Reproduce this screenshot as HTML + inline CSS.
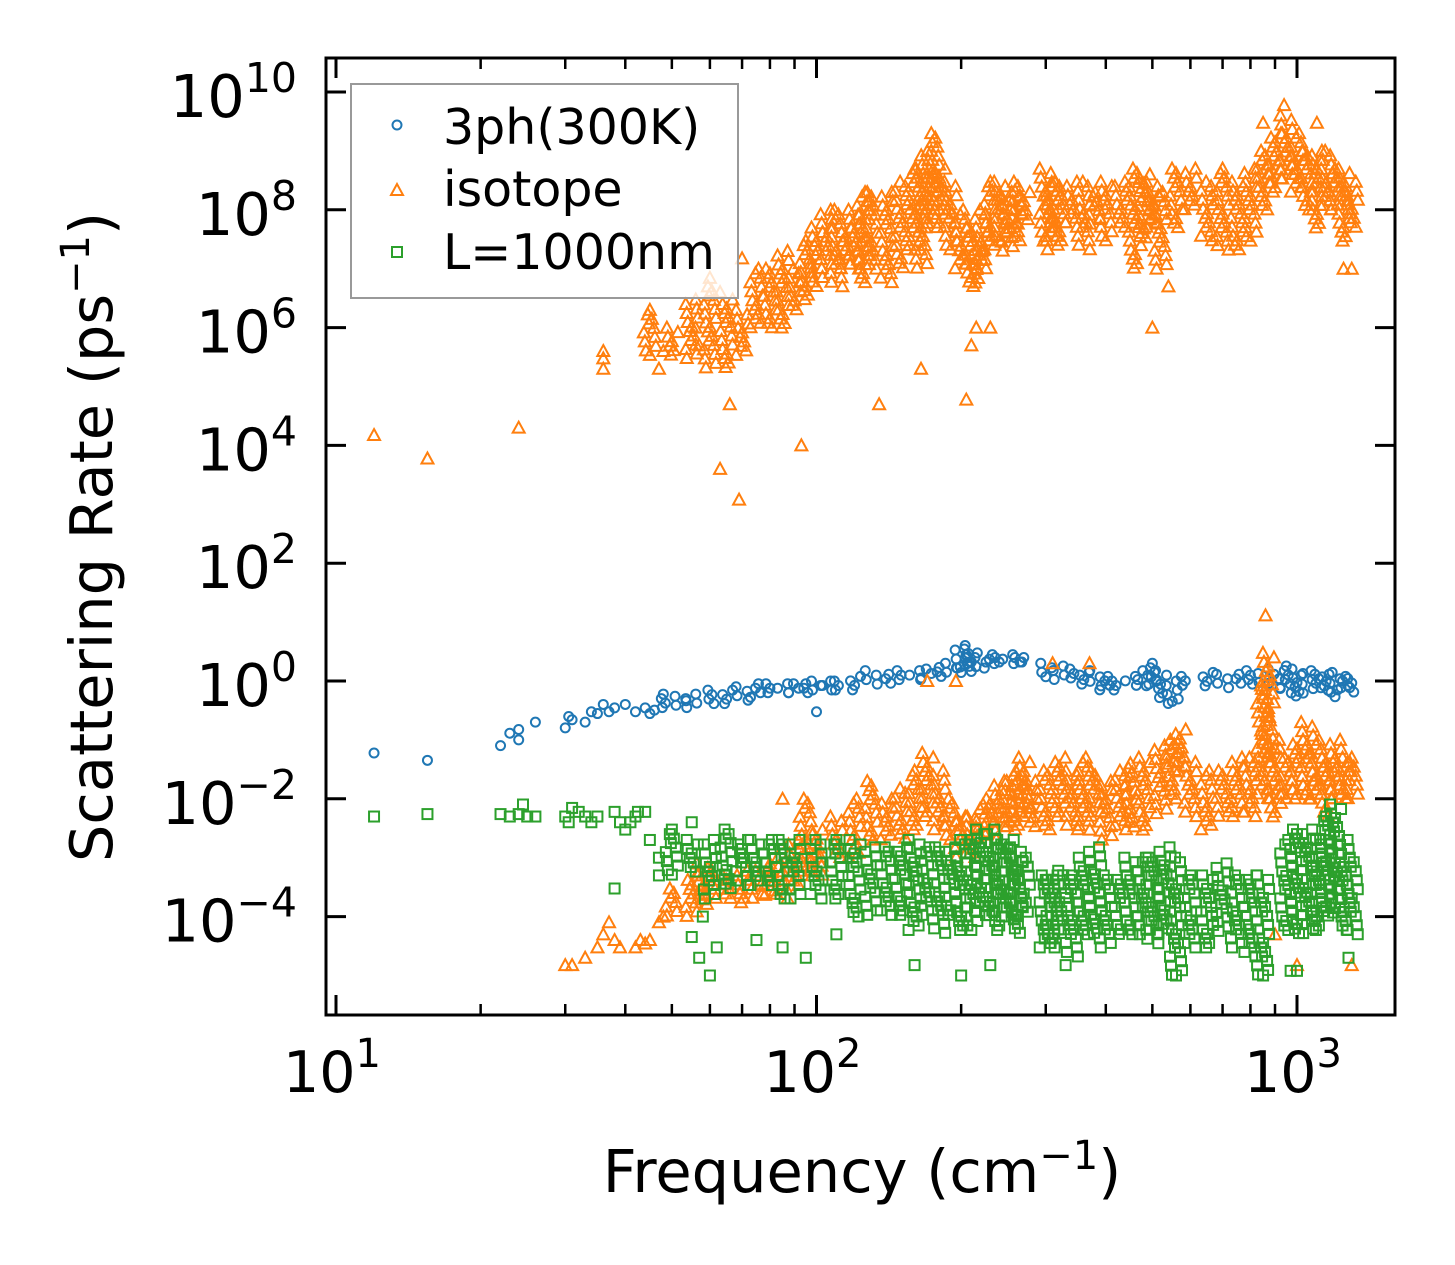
<!DOCTYPE html>
<html><head><meta charset="utf-8"><style>
html,body{margin:0;padding:0;background:#fff;}
svg{display:block;font-family:"DejaVu Sans","Liberation Sans",sans-serif;}
</style></head><body>
<svg id="chart" width="1455" height="1265" viewBox="0 0 1455 1265" xmlns="http://www.w3.org/2000/svg">
<defs><clipPath id="clip"><rect x="326" y="58" width="1069" height="957"/></clipPath></defs>
<g id="points" clip-path="url(#clip)"></g>
<rect x="326" y="58" width="1069" height="957" fill="none" stroke="#000" stroke-width="3"/>
<g id="axes"></g>
<text x="862" y="1192" font-size="59" text-anchor="middle">Frequency (cm<tspan dy="-23" font-size="40">−1</tspan><tspan dy="23">)</tspan></text>
<text transform="translate(112,537) rotate(-90)" font-size="59" text-anchor="middle">Scattering Rate (ps<tspan dy="-23" font-size="40">−1</tspan><tspan dy="23">)</tspan></text>
<g>
<rect x="351" y="84" width="387" height="214" fill="rgba(255,255,255,0.8)" stroke="#999" stroke-width="2"/>
<circle cx="397" cy="125" r="4.5" fill="none" stroke="#1f77b4" stroke-width="2"/>
<text x="443" y="144" font-size="49">3ph(300K)</text>
<path d="M397,184 L403,195 L391,195 Z" fill="none" stroke="#ff7f0e" stroke-width="2"/>
<text x="443" y="206" font-size="49">isotope</text>
<rect x="392" y="247" width="10" height="10" fill="none" stroke="#2ca02c" stroke-width="2"/>
<text x="443" y="269" font-size="49">L=1000nm</text>
</g>
</svg>
<script>
const xTicks=[10,100,1000];
const xTickLabels=["1","2","3"];
const yTicks=[1e10,1e8,1e6,1e4,1e2,1e0,1e-2,1e-4];
const yTickLabels=["10","8","6","4","2","0","−2","−4"];
const blueScatter=[[12,0.06],[15.5,0.045],[22,0.08],[23,0.13],[24,0.1],[24,0.15],[26,0.2],[30,0.16],[30.5,0.25],[31,0.22],[33,0.2],[34,0.3],[35,0.28],[36,0.4],[37,0.3],[38,0.35],[40,0.4],[42,0.3],[44,0.35],[45,0.28],[46,0.32],[100,0.3],[550,0.45]];
const blueBands=[[48,0.3,0.6],[52,0.35,0.55],[55,0.35,0.6],[60,0.35,0.7],[65,0.4,0.7],[70,0.45,0.8],[75,0.5,0.9],[80,0.6,0.9],[85,0.6,0.9],[90,0.6,0.9],[95,0.6,0.9],[100,0.6,1.0],[105,0.6,1.0],[110,0.6,1.0],[120,0.7,1.2],[130,0.8,1.5],[140,0.8,1.3],[150,0.9,1.5],[160,1.0,1.5],[170,1.0,1.6],[180,1.1,1.7],[190,1.2,2.0],[200,1.2,4],[205,1.3,3.5],[210,1.5,3],[220,1.5,2.5],[230,1.6,2.8],[240,1.8,2.5],[250,1.8,2.8],[260,1.8,2.5],[270,1.8,2.5],[300,1,2],[320,1,1.8],[340,1,1.6],[360,0.8,1.5],[380,0.7,1.4],[400,0.6,1.2],[420,0.7,1.0],[450,0.8,1.2],[480,0.8,1.5],[500,0.7,2],[520,0.5,1.5],[550,0.4,1.0],[580,0.8,1.2],[650,0.8,1.4],[700,0.7,1.3],[750,0.8,1.3],[800,0.8,1.5],[850,0.8,1.6],[900,0.7,1.3],[950,0.6,1.8],[1000,0.5,1.6],[1050,0.6,1.5],[1100,0.7,1.3],[1150,0.6,1.4],[1200,0.5,1.3],[1250,0.7,1.2],[1300,0.6,1.1]];
const orangeScatter=[[12,1.5e4],[15.5,6e3],[24,2e4],[36,3e5],[36,4e5],[36,2e5],[63,4e3],[69,1.2e3],[66,5e4],[93,1e4],[135,5e4],[165,2e5],[205,6e4],[210,5e5],[215,1e6],[230,1e6],[63,4e6],[60,7e6],[70,1.5e7],[56,1e6],[57,5e5],[48,4e5],[47,2e5],[940,6e9],[1100,3e9],[850,3e9],[1300,1e7],[1250,1e7],[540,5e6],[500,1e6],[30,1.5e-5],[31,1.5e-5],[33,2e-5],[35,3e-5],[36,5e-5],[37,8e-5],[38,4e-5],[39,3e-5],[42,3e-5],[43,4e-5],[44,3.5e-5],[45,4e-5],[47,8e-5],[48,1e-4],[860,1.3e1],[170,1e0],[195,1e0],[310,2e0],[370,2e0],[1300,1.5e-5],[900,5e-5],[1000,1.5e-5],[85,1e-2]];
const orangeBands=[[45,3e5,2e6],[50,3e5,1e6],[55,3e5,3e6],[60,2e5,5e6],[65,2e5,3e6],[70,3e5,2e6],[75,1e6,1e7],[80,1e6,1e7],[85,1e6,2e7],[90,2e6,1e7],[95,3e6,3e7],[100,5e6,5e7],[105,1e7,1e8],[110,5e6,1e8],[115,1e7,5e7],[120,1e7,1e8],[125,5e6,2e8],[130,1e7,2e8],[140,5e6,2e8],[150,1e7,3e8],[160,2e7,5e8],[165,1e7,5e8],[170,5e7,1e9],[175,1e8,2e9],[180,5e7,5e8],[190,2e7,3e8],[200,1e7,1e8],[210,5e6,5e7],[215,5e6,2e7],[220,1e7,1e8],[230,2e7,3e8],[240,3e7,3e8],[250,2e7,2e8],[260,3e7,3e8],[270,5e7,2e8],[300,3e7,5e8],[310,2e7,3e8],[320,3e7,3e8],[340,5e7,3e8],[360,2e7,3e8],[380,5e7,2e8],[400,3e7,3e8],[430,5e7,3e8],[460,1e7,5e8],[480,3e7,4e8],[500,5e7,3e8],[520,1e7,2e8],[560,5e7,5e8],[600,1e8,5e8],[650,3e7,3e8],[700,2e7,5e8],[750,2e7,3e8],[800,3e7,5e8],[850,1e8,1e9],[900,2e8,2e9],[950,3e8,4e9],[1000,2e8,2e9],[1050,1e8,1e9],[1100,5e7,1e9],[1150,1e8,1e9],[1200,1e8,5e8],[1250,3e7,5e8],[1300,5e7,3e8],
[50,1e-4,3e-4],[55,1e-4,5e-4],[58,1.5e-4,8e-4],[60,2e-4,6e-4],[65,2e-4,5e-4],[70,1.5e-4,6e-4],[75,2e-4,6e-4],[80,2e-4,8e-4],[85,2e-4,1e-3],[90,3e-4,2e-3],[95,5e-4,1e-2],[100,5e-4,3e-3],[110,1e-3,5e-3],[120,1e-3,1e-2],[130,2e-3,2e-2],[140,2e-3,1e-2],[150,2e-3,1.5e-2],[160,3e-3,3e-2],[170,5e-3,6e-2],[180,3e-3,3e-2],[190,2e-3,1e-2],[200,1e-3,5e-3],[210,1e-3,5e-3],[220,2e-3,8e-3],[230,2e-3,1e-2],[240,3e-3,2e-2],[250,3e-3,2e-2],[260,3e-3,3e-2],[270,5e-3,5e-2],[280,3e-3,2e-2],[300,3e-3,3e-2],[320,5e-3,5e-2],[340,3e-3,3e-2],[360,3e-3,5e-2],[380,5e-3,3e-2],[400,2e-3,2e-2],[430,3e-3,3e-2],[450,3e-3,4e-2],[480,3e-3,5e-2],[520,5e-3,8e-2],[550,1e-2,1e-1],[570,3e-2,1.5e-1],[600,5e-3,5e-2],[650,3e-3,3e-2],[700,5e-3,3e-2],[750,5e-3,5e-2],[800,5e-3,5e-2],[850,1e-2,1e0],[870,5e-2,3e0],[900,5e-3,1e-1],[950,1e-2,5e-2],[1000,1e-2,1e-1],[1050,1e-2,2e-1],[1100,1e-2,1e-1],[1150,5e-3,5e-2],[1200,1e-2,1e-1],[1250,1e-2,5e-2],[1300,1e-2,5e-2]];
const greenScatter=[[12,5e-3],[15.5,5.5e-3],[22,5.5e-3],[23,5e-3],[24,5.5e-3],[24.5,8e-3],[25,5e-3],[26,5e-3],[30,5e-3],[30.5,4e-3],[31,7e-3],[32,6e-3],[33,5e-3],[34,4e-3],[35,5e-3],[38,6e-3],[39,4e-3],[40,3e-3],[41,4e-3],[42,5e-3],[42.5,6e-3],[45,2e-3],[44,6e-3],[47,1e-3],[38,3e-4],[47,5e-4],[55,4e-3],[55,4.5e-5],[60,1e-5],[57,2e-5],[62,3e-5],[58,1e-4],[330,1.5e-5],[560,1e-5],[850,1e-5],[970,1.2e-5],[1000,1.2e-5],[160,1.5e-5],[200,1e-5],[230,1.5e-5],[95,2e-5],[110,5e-5],[1280,2e-5],[75,4e-5],[85,3e-5]];
const greenBands=[[50,5e-4,3e-3],[55,5e-4,2e-3],[60,2e-4,2e-3],[65,3e-4,3e-3],[70,3e-4,2e-3],[75,3e-4,2e-3],[80,3e-4,2e-3],[85,2e-4,2e-3],[90,2e-4,2e-3],[100,2e-4,2e-3],[110,2e-4,2e-3],[120,1e-4,2e-3],[130,1e-4,1.5e-3],[140,1e-4,1.5e-3],[150,1e-4,1.5e-3],[160,5e-5,2e-3],[170,1e-4,1.5e-3],[180,5e-5,1.5e-3],[190,1e-4,1.5e-3],[200,5e-5,2e-3],[210,5e-5,2e-3],[220,1e-4,3e-3],[230,1e-4,3e-3],[240,5e-5,2e-3],[250,1e-4,2e-3],[260,5e-5,1.5e-3],[270,1e-4,1e-3],[300,3e-5,5e-4],[310,3e-5,5e-4],[320,5e-5,6e-4],[340,2e-5,5e-4],[360,5e-5,1e-3],[380,5e-5,1.5e-3],[400,3e-5,5e-4],[430,5e-5,5e-4],[450,5e-5,1e-3],[480,5e-5,1e-3],[500,3e-5,1e-3],[530,5e-5,1.5e-3],[560,1e-5,1e-3],[600,3e-5,5e-4],[650,3e-5,5e-4],[700,5e-5,8e-4],[750,3e-5,5e-4],[800,2e-5,5e-4],[850,1e-5,5e-4],[950,5e-5,2e-3],[1000,5e-5,3e-3],[1050,5e-5,3e-3],[1100,5e-5,2e-3],[1150,1e-4,5e-3],[1200,1e-4,8e-3],[1250,5e-5,2e-3],[1300,5e-5,1e-3]];

const NS="http://www.w3.org/2000/svg";
function X(f){return 336+480.5*(Math.log10(f)-1);}
function Y(v){return 681-58.9*Math.log10(v);}
const pts=document.getElementById('points');
const axes=document.getElementById('axes');
function mk(tag,attrs,parent){const e=document.createElementNS(NS,tag);for(const k in attrs)e.setAttribute(k,attrs[k]);parent.appendChild(e);return e;}
function marker(kind,x,y,g){
  let e;
  if(kind==='c'){e=mk('circle',{cx:x,cy:y,r:4.5,fill:'none',stroke:'#1f77b4','stroke-width':2},g);}
  else if(kind==='t'){e=mk('path',{d:`M${x},${y-6} L${x+6},${y+5} L${x-6},${y+5} Z`,fill:'none',stroke:'#ff7f0e','stroke-width':2},g);}
  else {e=mk('rect',{x:x-5,y:y-5,width:10,height:10,fill:'none',stroke:'#2ca02c','stroke-width':2},g);}
  
  
}
const jit=[0,-5,4,-2,6,-6,2,-4,5,-1];
function series(name,kind,scatter,bands){
  const g=mk('g',{},pts);
  
  
  bands.forEach((b,i)=>{
    const x=X(b[0]),y0=Y(b[2]),y1=Y(b[1]);
    let k=i;
    for(let y=y0;y<=y1+0.1;y+=4.5){marker(kind,x+jit[k%jit.length],y,g);k+=3;}
  });
  scatter.forEach(p=>marker(kind,X(p[0]),Y(p[1]),g));
}
series('series-3ph','c',blueScatter,blueBands);
series('series-isotope','t',orangeScatter,orangeBands);
series('series-boundary','s',greenScatter,greenBands);

xTicks.forEach((t,i)=>{
  const x=X(t);
  mk('line',{x1:x,y1:1015,x2:x,y2:995,stroke:'#000','stroke-width':3},axes);
  mk('line',{x1:x,y1:58,x2:x,y2:78,stroke:'#000','stroke-width':3},axes);
  const tx=mk('text',{x:x-4,y:1092,'font-size':57,'text-anchor':'middle'},axes);
  
  
  const a=mk('tspan',{},tx);a.textContent='10';
  const sp=mk('tspan',{dy:-25,'font-size':40},tx);sp.textContent=xTickLabels[i];
  for(let m=2;m<=9;m++){
    const xm=X(t*m); if(xm>1395)continue;
    mk('line',{x1:xm,y1:1015,x2:xm,y2:1004,stroke:'#000','stroke-width':2.5},axes);
    mk('line',{x1:xm,y1:58,x2:xm,y2:69,stroke:'#000','stroke-width':2.5},axes);
  }
});
yTicks.forEach((t,i)=>{
  const y=Y(t);
  mk('line',{x1:326,y1:y,x2:346,y2:y,stroke:'#000','stroke-width':3},axes);
  mk('line',{x1:1395,y1:y,x2:1375,y2:y,stroke:'#000','stroke-width':3},axes);
  const tx=mk('text',{x:297,y:y+25,'font-size':59,'text-anchor':'end'},axes);
  
  
  const a=mk('tspan',{},tx);a.textContent='10';
  const s=mk('tspan',{dy:-25,'font-size':41},tx);s.textContent=yTickLabels[i];
});
</script>
</body></html>
